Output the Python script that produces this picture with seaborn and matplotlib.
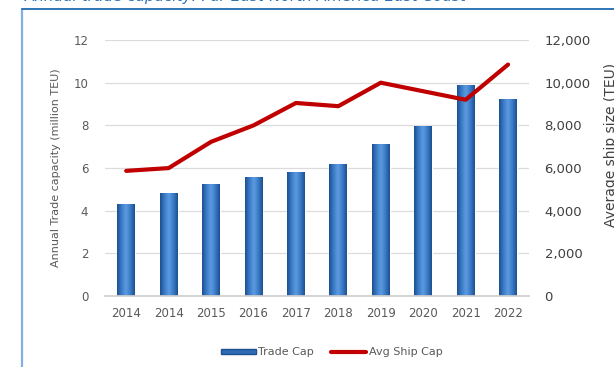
import numpy as np
import pandas as pd
import matplotlib
matplotlib.use("Agg")
import matplotlib.pyplot as plt
import seaborn as sns
from matplotlib.patches import Patch
from matplotlib.lines import Line2D
from matplotlib.colors import LinearSegmentedColormap

years = ["2014", "2014", "2015", "2016", "2017", "2018", "2019", "2020", "2021", "2022"]
trade_cap = [4.3, 4.85, 5.25, 5.6, 5.8, 6.2, 7.15, 7.95, 9.9, 9.25]          # million TEU
avg_ship = [5870, 6000, 7230, 8000, 9050, 8900, 10000, 9600, 9200, 10850]    # TEU

df = pd.DataFrame({"pos": range(len(years)), "year": years,
                   "trade": trade_cap, "ship": avg_ship})

sns.set_theme(style="white")
plt.rcParams["font.family"] = ["DejaVu Sans"]

fig = plt.figure(figsize=(6.14, 3.67), dpi=100)
ax = fig.add_axes([0.171, 0.193, 0.691, 0.698])

sns.barplot(data=df, x="pos", y="trade", color="#2f6cb4", width=0.42,
            ax=ax, zorder=2, saturation=1)

# cylinder-like shading on each bar
cmap = LinearSegmentedColormap.from_list(
    "barshade", ["#1d4f8f", "#3a7bc8", "#5d9be0", "#3a7bc8", "#1d4f8f"])
grad = np.linspace(0, 1, 64).reshape(1, -1)
for p in list(ax.patches):
    x0, w, h = p.get_x(), p.get_width(), p.get_height()
    im = ax.imshow(grad, extent=[x0, x0 + w, 0, h], aspect="auto",
                   cmap=cmap, zorder=2.5, interpolation="bicubic")
    im.set_clip_path(p)

ax.set_xlim(-0.5, len(years) - 0.5)
ax.set_ylim(0, 12)
ax.set_yticks(range(0, 13, 2))
ax.set_xticks(range(len(years)))
ax.set_xticklabels(years)
ax.grid(axis="y", color="#dcdcdc", linewidth=0.9, zorder=0)
ax.set_axisbelow(True)
for s in ["top", "right", "left"]:
    ax.spines[s].set_visible(False)
ax.spines["bottom"].set_color("#cfcfcf")
ax.tick_params(axis="both", length=0, labelsize=8.5, labelcolor="#595959")
ax.tick_params(axis="x", pad=8)
ax.tick_params(axis="y", pad=12)
ax.set_xlabel("")
ax.set_ylabel("Annual Trade capacity (million TEU)", fontsize=8, color="#595959",
              labelpad=9)

ax2 = ax.twinx()
sns.lineplot(data=df, x="pos", y="ship", color="#c00000", linewidth=3,
             ax=ax2, zorder=3)
ax2.set_ylim(0, 12000)
ax2.set_yticks(range(0, 12001, 2000))
ax2.set_yticklabels([f"{v:,}" for v in range(0, 12001, 2000)])
for s in ["top", "right", "left", "bottom"]:
    ax2.spines[s].set_visible(False)
ax2.tick_params(axis="y", length=0, labelsize=9.5, labelcolor="#404040", pad=11)
ax2.grid(False)
ax2.set_ylabel("")
ax2.set_xlabel("")

fig.text(0.984, 0.605, "Average ship size (TEU)", rotation=90, fontsize=10,
         color="#404040", ha="left", va="center")

# chart title above the frame
fig.text(0.040, 1.010, "Annual trade capacity: Far East-North America East Coast",
         fontsize=11, style="italic", color="#2e74b5", ha="left", va="center")

# frame around the chart
fig.add_artist(Line2D([0.036, 0.036], [0.0, 0.975], color="#7fb0de", linewidth=1.6,
                      transform=fig.transFigure))
fig.add_artist(Line2D([0.036, 1.0], [0.975, 0.975], color="#2e74b5", linewidth=1.4,
                      transform=fig.transFigure))

handles = [Patch(facecolor="#2f6cb4", edgecolor="#1d4f8f", label="Trade Cap"),
           Line2D([0], [0], color="#c00000", linewidth=3, label="Avg Ship Cap")]
fig.legend(handles=handles, loc="center", bbox_to_anchor=(0.54, 0.04), ncol=2,
           frameon=False, fontsize=8, handlelength=3.2, handleheight=0.4,
           columnspacing=1.5, handletextpad=0.2, labelcolor="#595959")

fig.savefig("out.png", dpi=100, facecolor="white")
